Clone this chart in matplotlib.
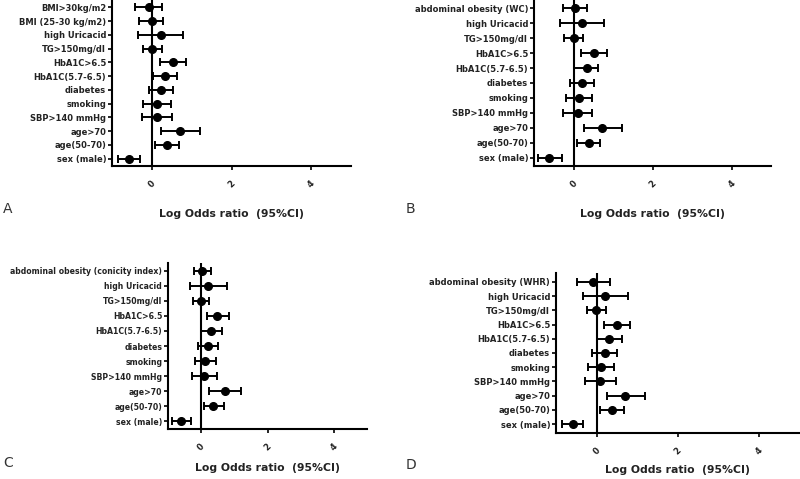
import matplotlib
matplotlib.use("Agg")
import matplotlib.pyplot as plt

plt.rcParams["font.family"] = ["DejaVu Sans"]

# labels, top to bottom
labels_A = ["BMI>30kg/m2", "BMI (25-30 kg/m2)", "high Uricacid", "TG>150mg/dl",
            "HbA1C>6.5", "HbA1C(5.7-6.5)", "diabetes", "smoking",
            "SBP>140 mmHg", "age>70", "age(50-70)", "sex (male)"]
or_A = [-0.08, 0.00, 0.24, 0.00, 0.52, 0.33, 0.22, 0.13, 0.12, 0.71, 0.38, -0.57]
lo_A = [-0.42, -0.32, -0.34, -0.23, 0.20, 0.03, -0.08, -0.21, -0.25, 0.24, 0.08, -0.84]
hi_A = [0.25, 0.29, 0.79, 0.25, 0.85, 0.64, 0.52, 0.47, 0.50, 1.20, 0.68, -0.30]

labels_B = ["abdominal obesity (WC)", "high Uricacid", "TG>150mg/dl",
            "HbA1C>6.5", "HbA1C(5.7-6.5)", "diabetes", "smoking",
            "SBP>140 mmHg", "age>70", "age(50-70)", "sex (male)"]
or_B = [0.03, 0.22, 0.00, 0.52, 0.33, 0.21, 0.14, 0.11, 0.73, 0.39, -0.61]
lo_B = [-0.27, -0.34, -0.24, 0.19, 0.02, -0.08, -0.19, -0.27, 0.26, 0.10, -0.89]
hi_B = [0.34, 0.78, 0.24, 0.84, 0.63, 0.51, 0.47, 0.48, 1.22, 0.68, -0.30]

labels_C = ["abdominal obesity (conicity index)", "high Uricacid", "TG>150mg/dl",
            "HbA1C>6.5", "HbA1C(5.7-6.5)", "diabetes", "smoking",
            "SBP>140 mmHg", "age>70", "age(50-70)", "sex (male)"]
or_C = [0.03, 0.21, -0.01, 0.49, 0.30, 0.21, 0.13, 0.10, 0.72, 0.37, -0.60]
lo_C = [-0.22, -0.35, -0.25, 0.19, 0.00, -0.09, -0.20, -0.27, 0.24, 0.08, -0.88]
hi_C = [0.29, 0.78, 0.25, 0.84, 0.62, 0.52, 0.45, 0.49, 1.19, 0.68, -0.31]

labels_D = ["abdominal obesity (WHR)", "high Uricacid", "TG>150mg/dl",
            "HbA1C>6.5", "HbA1C(5.7-6.5)", "diabetes", "smoking",
            "SBP>140 mmHg", "age>70", "age(50-70)", "sex (male)"]
or_D = [-0.08, 0.21, -0.01, 0.50, 0.31, 0.21, 0.12, 0.09, 0.71, 0.38, -0.59]
lo_D = [-0.49, -0.34, -0.24, 0.19, 0.01, -0.10, -0.21, -0.29, 0.25, 0.08, -0.86]
hi_D = [0.34, 0.77, 0.23, 0.83, 0.62, 0.51, 0.44, 0.49, 1.20, 0.68, -0.33]

xticks = [0, 2, 4]
W, H = 800, 479

fig = plt.figure(figsize=(8, 4.79), dpi=100)


def panel(box, labels, est, lo, hi, letter, letter_xy, xlab_y, pad, fs=6.0):
    left, right, top, bottom = box
    ax = fig.add_axes([left / W, 1 - bottom / H, (right - left) / W, (bottom - top) / H])
    n = len(labels)
    y = list(range(n - 1, -1, -1))
    err = [[e - l for e, l in zip(est, lo)], [h - e for e, h in zip(est, hi)]]
    ax.axvline(0, color="black", lw=1.5, zorder=1)
    ax.errorbar(est, y, xerr=err, fmt="o", color="black", ms=5.5,
                elinewidth=1.4, capsize=3, capthick=1.4, zorder=3)
    ax.set_xlim(-1, 5)
    ax.set_ylim(-pad, n - 1 + pad)
    ax.set_yticks(y)
    ax.set_yticklabels(labels, fontsize=fs, fontweight="bold", color="#222222")
    ax.set_xticks(xticks)
    ax.set_xticklabels([str(t) for t in xticks], fontsize=6, fontweight="bold",
                       rotation=45, color="#222222")
    for s in ["top", "right"]:
        ax.spines[s].set_visible(False)
    for s in ["left", "bottom"]:
        ax.spines[s].set_linewidth(1.5)
    ax.tick_params(axis="y", length=3, width=1.2, pad=1.2)
    ax.tick_params(axis="x", length=3, width=1.2, pad=6)
    ax.set_xlabel("Log Odds ratio  (95%CI)", fontsize=7.8, fontweight="bold", color="#222222")
    ax.xaxis.set_label_coords(0.5, -(xlab_y - bottom) / (bottom - top))
    fig.text(letter_xy[0] / W, 1 - letter_xy[1] / H, letter, fontsize=10,
             color="#333333", va="center", ha="left")
    return ax


panel((112, 351, 0, 166), labels_A, or_A, lo_A, hi_A, "A", (3, 209), 209, 0.54)
panel((534, 771, 0, 166), labels_B, or_B, lo_B, hi_B, "B", (406, 209), 209, 0.56)
panel((168, 367, 263, 429), labels_C, or_C, lo_C, hi_C, "C", (3, 463), 463, 0.5, fs=5.6)
panel((556, 799, 273, 433), labels_D, or_D, lo_D, hi_D, "D", (406, 465), 465, 0.63)

fig.savefig("out.png", dpi=100)
